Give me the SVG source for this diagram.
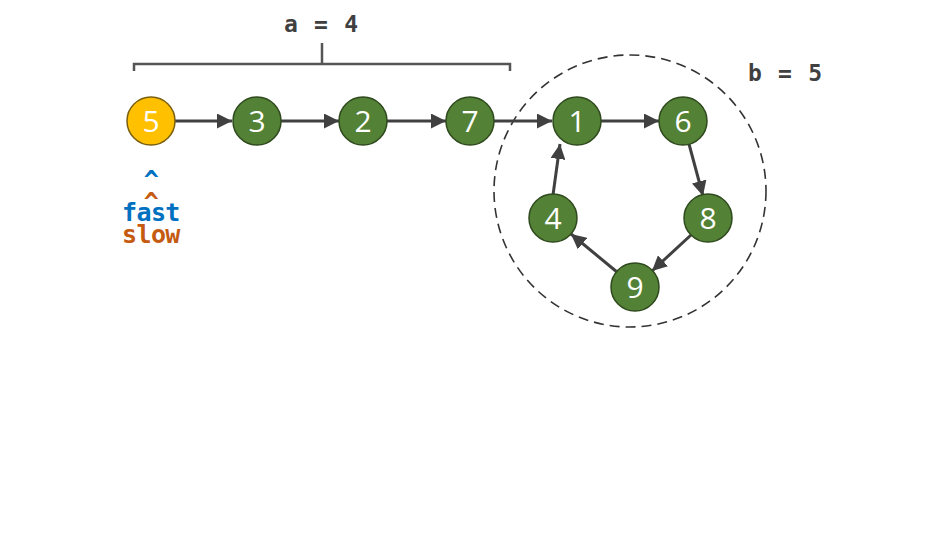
<svg xmlns="http://www.w3.org/2000/svg" width="936" height="534" viewBox="0 0 936 534">
<defs>
<style>
.bg{fill:#ffffff}
.node circle{fill:#538135;stroke:#2f4a1e;stroke-width:1.5}
.node.start circle{fill:#ffc000;stroke:#7a5f10}
.node text{font-family:"Open Sans","Noto Sans",sans-serif;font-size:30px;fill:#ffffff;text-anchor:middle}
.edge{stroke:#404040;stroke-width:3;fill:none;marker-end:url(#arr)}
.mono{font-family:"DejaVu Sans Mono","Liberation Mono",monospace;font-weight:bold}
.lbl{font-size:23px;fill:#404040;letter-spacing:1.2px}
.ptr{font-size:25px;letter-spacing:-0.6px}
.fast{fill:#0070c0}
.slow{fill:#c55a11}
</style>
<marker id="arr" viewBox="0 0 10 10" refX="10" refY="5" markerWidth="5" markerHeight="5" markerUnits="strokeWidth" orient="auto">
<path d="M0,0 L10,5 L0,10 z" fill="#404040"/>
</marker>
</defs>
<rect class="bg" x="0" y="0" width="936" height="534"/>
<g id="annotations">
<path d="M134,71 V64 H510 V71 M322,64 V43" fill="none" stroke="#555555" stroke-width="2.5"/>
<text class="mono lbl" x="284" y="32">a = 4</text>
<text class="mono lbl" x="748" y="81">b = 5</text>
<circle cx="630" cy="191" r="136" fill="none" stroke="#333333" stroke-width="1.6" stroke-dasharray="10 6"/>
<text class="mono ptr fast" x="151" y="188" text-anchor="middle">^</text>
<text class="mono ptr slow" x="151" y="210" text-anchor="middle">^</text>
<text class="mono ptr fast" x="122" y="221">fast</text>
<text class="mono ptr slow" x="122" y="243">slow</text>
</g>
<g id="connectors">
<line class="edge" x1="175" y1="121" x2="232" y2="121"/>
<line class="edge" x1="281" y1="121" x2="339" y2="121"/>
<line class="edge" x1="387" y1="121" x2="446" y2="121"/>
<line class="edge" x1="494" y1="121" x2="552" y2="121"/>
<line class="edge" x1="601" y1="121" x2="659" y2="121"/>
<line class="edge" x1="689" y1="144" x2="703" y2="196"/>
<line class="edge" x1="691" y1="235" x2="652" y2="271"/>
<line class="edge" x1="617" y1="272" x2="571" y2="234"/>
<line class="edge" x1="553" y1="195" x2="560" y2="144"/>
</g>
<g id="node-5" class="node start"><circle cx="151" cy="121" r="24"/><text x="151" y="132">5</text></g>
<g id="node-3" class="node"><circle cx="257" cy="121" r="24"/><text x="257" y="132">3</text></g>
<g id="node-2" class="node"><circle cx="363" cy="121" r="24"/><text x="363" y="132">2</text></g>
<g id="node-7" class="node"><circle cx="470" cy="121" r="24"/><text x="470" y="132">7</text></g>
<g id="node-1" class="node"><circle cx="577" cy="121" r="24"/><text x="577" y="132">1</text></g>
<g id="node-6" class="node"><circle cx="683" cy="121" r="24"/><text x="683" y="132">6</text></g>
<g id="node-8" class="node"><circle cx="708" cy="218" r="24"/><text x="708" y="229">8</text></g>
<g id="node-9" class="node"><circle cx="635" cy="287" r="24"/><text x="635" y="298">9</text></g>
<g id="node-4" class="node"><circle cx="553" cy="218" r="24"/><text x="553" y="229">4</text></g>
</svg>
